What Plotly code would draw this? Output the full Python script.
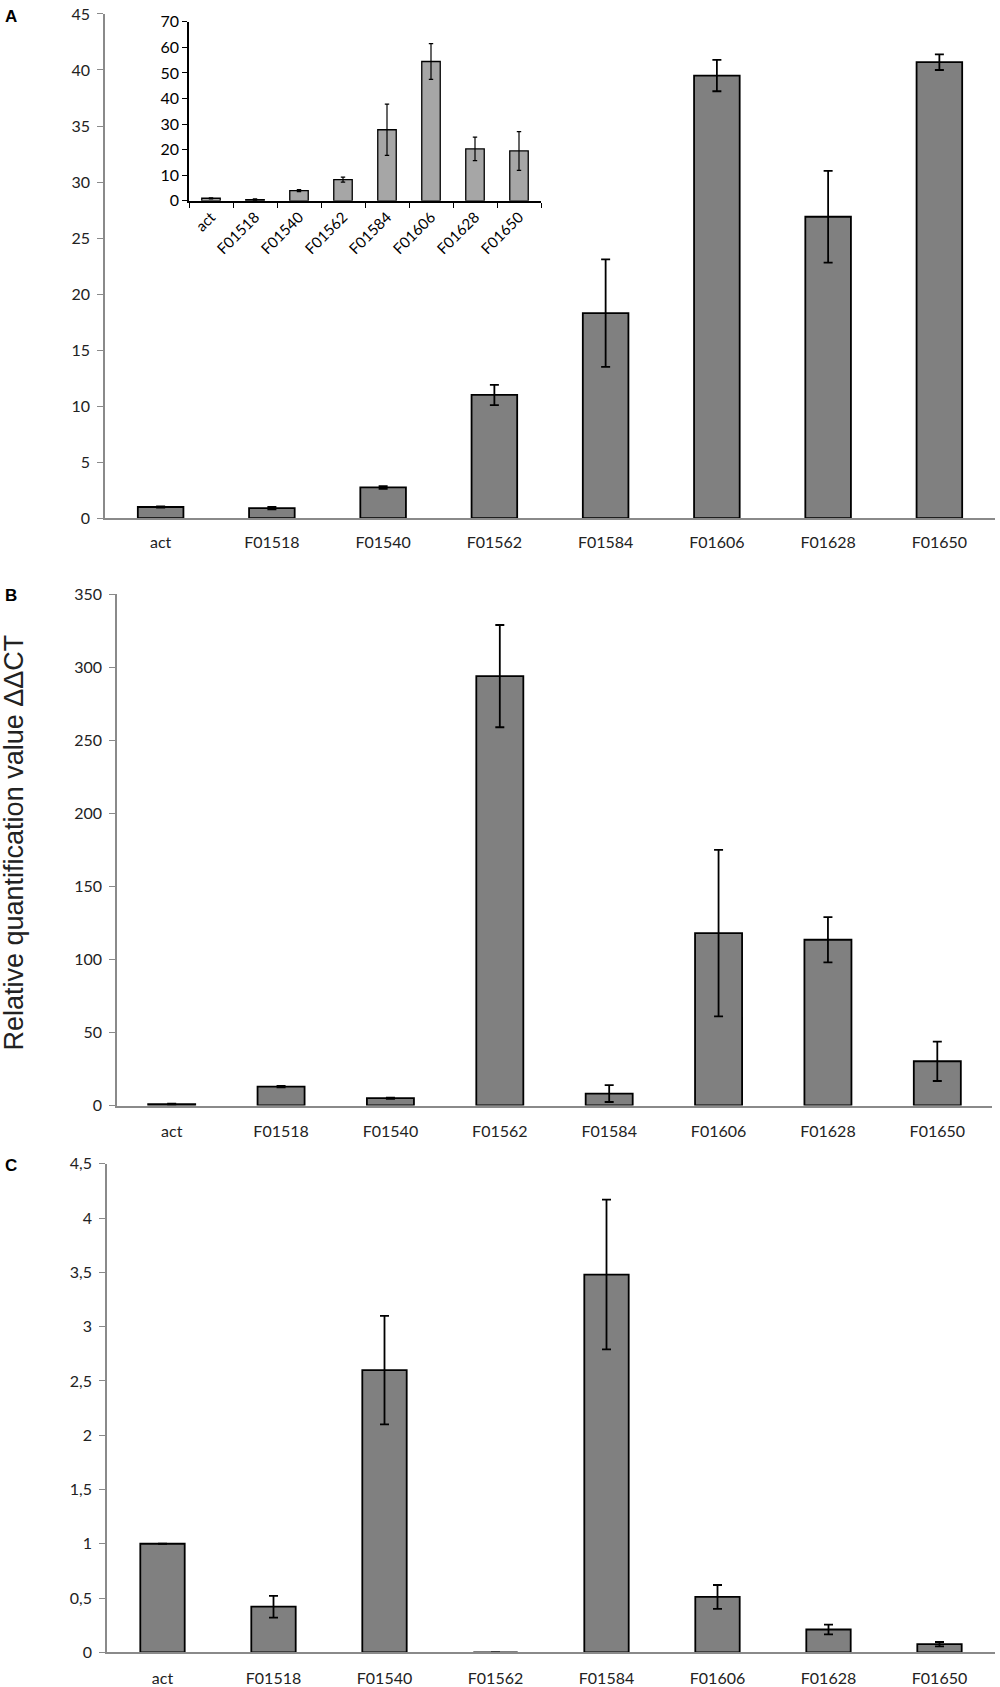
import plotly.graph_objects as go

cats = ["act", "F01518", "F01540", "F01562", "F01584", "F01606", "F01628", "F01650"]

# panel A, main
a_vals = [1.0, 0.9, 2.75, 11.0, 18.3, 39.5, 26.9, 40.7]
a_err = [0.05, 0.1, 0.12, 0.9, 4.8, 1.4, 4.1, 0.7]

# panel A, inset
ins_vals = [1.0, 0.5, 4.0, 8.3, 27.8, 54.5, 20.3, 19.5]
ins_err = [0.2, 0.3, 0.4, 1.0, 10.0, 7.0, 4.6, 7.6]

# panel B
b_vals = [1.0, 13.0, 5.0, 294, 8.2, 118, 113.5, 30.3]
b_err = [0.3, 0.5, 0.4, 35, 5.8, 57, 15.5, 13.5]

# panel C
c_vals = [1.0, 0.42, 2.6, 0.0, 3.48, 0.51, 0.21, 0.075]
c_err = [0.0, 0.1, 0.5, 0.0, 0.69, 0.11, 0.045, 0.02]

W, H = 1000, 1687
FONT = "Lato"
AX_GRAY = "#8a8a8a"


def px_x(x):
    return min(1.0, max(0.0, x / W))


def px_y(y):
    return min(1.0, max(0.0, 1 - y / H))


def bar(vals, err, xa, ya, color, lw, cap, thick, width=0.41):
    return go.Bar(
        x=cats, y=vals, xaxis=xa, yaxis=ya, width=width,
        marker=dict(color=color, line=dict(color="black", width=lw)),
        error_y=dict(type="data", array=err, visible=True, color="black",
                     thickness=thick, width=cap),
        showlegend=False,
    )


fig = go.Figure()
fig.add_trace(bar(a_vals, a_err, "x", "y", "#808080", 1.8, 4.5, 1.8))
fig.add_trace(bar(ins_vals, ins_err, "x2", "y2", "#a6a6a6", 1.3, 2.2, 1.2, width=0.42))
fig.add_trace(bar(b_vals, b_err, "x3", "y3", "#808080", 1.8, 4.5, 1.8, width=0.43))
fig.add_trace(bar(c_vals, c_err, "x4", "y4", "#808080", 1.8, 4.5, 1.8, width=0.40))


def main_x(dom, standoff=11):
    return dict(domain=dom, type="category", showline=True, linecolor=AX_GRAY,
                linewidth=1.5, ticks="", showgrid=False, zeroline=False,
                ticklabelstandoff=standoff,
                tickfont=dict(family=FONT, size=16, color="#222"))


def main_y(dom, rng, dtick, anchor):
    return dict(domain=dom, range=rng, dtick=dtick, anchor=anchor, showline=True,
                linecolor=AX_GRAY, linewidth=1.5, ticks="outside", ticklen=6,
                tickcolor=AX_GRAY, showgrid=False, zeroline=False,
                ticklabeloverflow="allow", ticklabelstandoff=4,
                tickfont=dict(family=FONT, size=16, color="#222"))


letter_font = dict(family="Liberation Sans", size=17, color="black")


def letter(txt, y):
    return dict(text="<b>%s</b>" % txt, x=px_x(11), y=px_y(y), xref="paper",
                yref="paper", xanchor="center", yanchor="middle",
                showarrow=False, font=letter_font)


fig.update_layout(
    width=W, height=H,
    margin=dict(l=0, r=0, t=0, b=0),
    paper_bgcolor="white", plot_bgcolor="rgba(0,0,0,0)",
    separators=",.",
    xaxis=dict(main_x([px_x(105), px_x(995)], standoff=9), anchor="y"),
    yaxis=main_y([px_y(514), px_y(4)], [0, 45], 5, "x"),
    xaxis2=dict(domain=[px_x(189), px_x(541)], anchor="y2", type="category",
                showline=True, linecolor="black", linewidth=1.5, ticks="outside",
                tickson="boundaries", ticklen=5, tickcolor="black", tickangle=-45,
                showgrid=False, zeroline=False,
                tickfont=dict(family=FONT, size=15, color="black")),
    yaxis2=dict(domain=[px_y(193), px_y(12)], range=[0, 70], dtick=10, anchor="x2",
                showline=True, linecolor="black", linewidth=1.5, ticks="outside",
                ticklen=5, tickcolor="black", showgrid=False, zeroline=False,
                tickfont=dict(family=FONT, size=16, color="black")),
    xaxis3=dict(main_x([px_x(117), px_x(992)]), anchor="y3"),
    yaxis3=main_y([px_y(1108), px_y(591)], [0, 350], 50, "x3"),
    xaxis4=dict(main_x([px_x(107), px_x(995)]), anchor="y4"),
    yaxis4=main_y([px_y(1661), px_y(1167)], [0, 4.5], 0.5, "x4"),
    annotations=[
        letter("A", 7),
        letter("B", 592),
        letter("C", 1169),
        dict(text="Relative quantification value ΔΔCT", textangle=-90,
             x=px_x(14), y=px_y(842), xref="paper", yref="paper",
             xanchor="center", yanchor="middle", showarrow=False,
             font=dict(family="Liberation Sans", size=27, color="#222")),
    ],
)

# drop the default 8px body margin so the figure sits at the page corner
fig.write_html("out.html", config={"displayModeBar": False},
               post_script="document.body.style.margin='0px';")
